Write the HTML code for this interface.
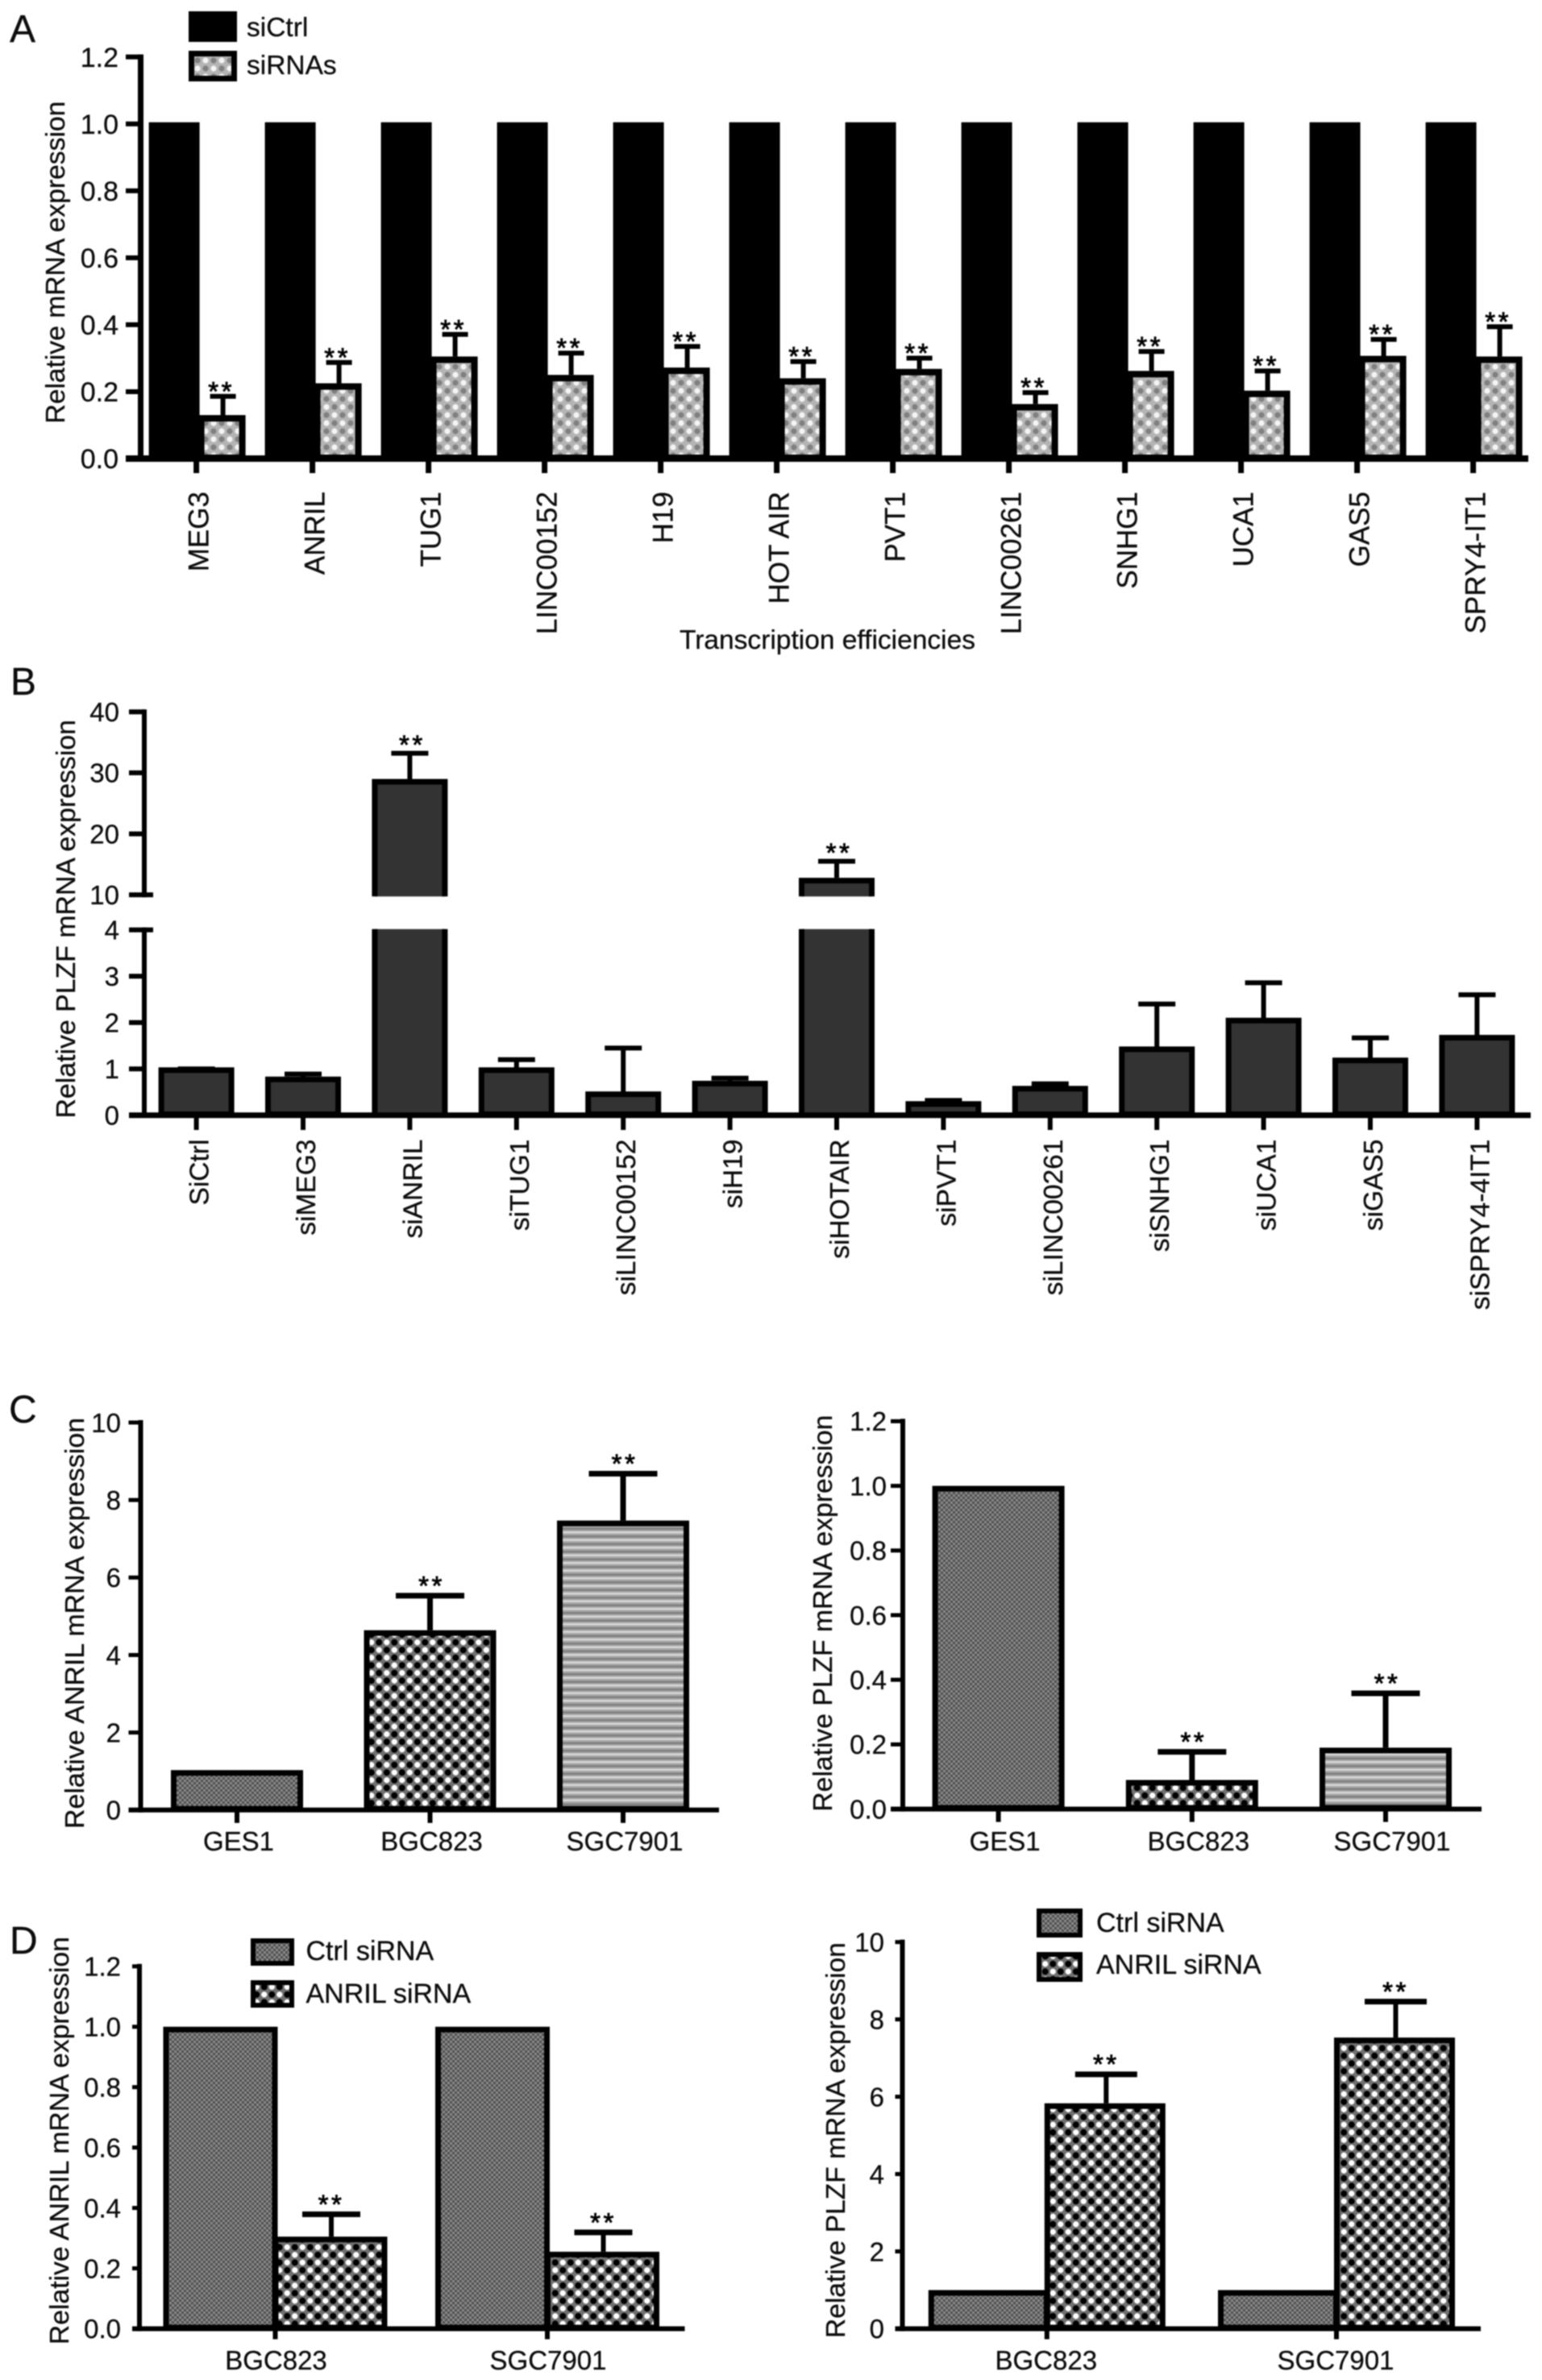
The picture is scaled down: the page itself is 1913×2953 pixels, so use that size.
<!DOCTYPE html>
<html lang="en">
<head>
<meta charset="utf-8">
<title>lncRNA expression figure</title>
<style>
html,body{margin:0;padding:0;background:#fff;}
svg{display:block;filter:blur(0.7px);}
text{font-family:"Liberation Sans",sans-serif;fill:#0c0c0c;stroke:#0c0c0c;stroke-width:0.3px;}
</style>
</head>
<body>
<svg id="figure" xmlns="http://www.w3.org/2000/svg" width="1913" height="2953" viewBox="0 0 1913 2953">
  <defs>
    <pattern id="pat-sirna" patternUnits="userSpaceOnUse" width="20" height="20">
      <rect width="20" height="20" fill="#b4b4b4"/>
      <circle cx="5" cy="5" r="3.6" fill="#f4f4f4"/>
      <circle cx="15" cy="15" r="3.6" fill="#f4f4f4"/>
      <circle cx="15" cy="5" r="3.6" fill="#808080"/>
      <circle cx="5" cy="15" r="3.6" fill="#808080"/>
    </pattern>
    <pattern id="pat-fine" patternUnits="userSpaceOnUse" width="6" height="6">
      <rect width="6" height="6" fill="#4e4e4e"/>
      <rect width="3" height="3" fill="#8c8c8c"/>
      <rect x="3" y="3" width="3" height="3" fill="#8c8c8c"/>
    </pattern>
    <pattern id="pat-dots" patternUnits="userSpaceOnUse" width="19" height="19">
      <rect width="19" height="19" fill="#707070"/>
      <circle cx="4.75" cy="4.75" r="3.6" fill="#fff"/>
      <circle cx="14.25" cy="14.25" r="3.6" fill="#fff"/>
      <circle cx="14.25" cy="4.75" r="4" fill="#000"/>
      <circle cx="4.75" cy="14.25" r="4" fill="#000"/>
    </pattern>
    <pattern id="pat-stripes" patternUnits="userSpaceOnUse" width="9.5" height="9.5">
      <rect width="9.5" height="9.5" fill="#a6a6a6"/>
      <rect y="0" width="9.5" height="2.6" fill="#d6d6d6"/>
      <rect y="5" width="9.5" height="2.6" fill="#808080"/>
    </pattern>
  </defs>
  <rect width="1913" height="2953" fill="#fff"/>

  <text x="12" y="52" font-size="48">A</text>
  <text x="13" y="862" font-size="48">B</text>
  <text x="11" y="1765" font-size="48">C</text>
  <text x="12" y="2424" font-size="48">D</text>

  <g>
    <rect x="234" y="14" width="60" height="38" fill="#000"/>
    <text x="306" y="45" font-size="33.5">siCtrl</text>
    <rect x="237.5" y="66.5" width="53" height="31" fill="url(#pat-sirna)" stroke="#000" stroke-width="7"/>
    <text x="306" y="92" font-size="33.5">siRNAs</text>
  </g>
  <g>
    <rect x="314" y="2408" width="48" height="28" fill="url(#pat-fine)" stroke="#000" stroke-width="6"/>
    <text x="379.5" y="2432" font-size="34">Ctrl siRNA</text>
    <rect x="314" y="2460" width="48" height="28" fill="url(#pat-dots)" stroke="#000" stroke-width="6"/>
    <text x="379.5" y="2485" font-size="34">ANRIL siRNA</text>
  </g>
  <g>
    <rect x="1289" y="2371" width="51" height="30" fill="url(#pat-fine)" stroke="#000" stroke-width="6"/>
    <text x="1360" y="2397" font-size="34">Ctrl siRNA</text>
    <rect x="1289" y="2425" width="51" height="31" fill="url(#pat-dots)" stroke="#000" stroke-width="6"/>
    <text x="1360" y="2449" font-size="34">ANRIL siRNA</text>
  </g>

  <text transform="translate(80,525.6) rotate(-90)" font-size="33.5" textLength="400" lengthAdjust="spacingAndGlyphs">Relative mRNA expression</text>
  <text x="843" y="805" font-size="33.4" textLength="367" lengthAdjust="spacingAndGlyphs">Transcription efficiencies</text>
  <text transform="translate(93,1387.5) rotate(-90)" font-size="33.7" textLength="494.5" lengthAdjust="spacingAndGlyphs">Relative PLZF mRNA expression</text>
  <text transform="translate(104,2269) rotate(-90)" font-size="33.6" textLength="510" lengthAdjust="spacingAndGlyphs">Relative ANRIL mRNA expression</text>
  <text transform="translate(1032,2247.7) rotate(-90)" font-size="33.5" textLength="492" lengthAdjust="spacingAndGlyphs">Relative PLZF mRNA expression</text>
  <text transform="translate(85,2909) rotate(-90)" font-size="33.5" textLength="506" lengthAdjust="spacingAndGlyphs">Relative ANRIL mRNA expression</text>
  <text transform="translate(1048,2901) rotate(-90)" font-size="33.5" textLength="491" lengthAdjust="spacingAndGlyphs">Relative PLZF mRNA expression</text>
</svg>

<script>
/* ---------- Panel A ---------- */
var categoriesA = ['MEG3','ANRIL','TUG1','LINC00152','H19','HOT AIR','PVT1','LINC00261','SNHG1','UCA1','GAS5','SPRY4-IT1'];
var ctrlA = [1,1,1,1,1,1,1,1,1,1,1,1];
var sirnaA = [0.13,0.225,0.305,0.25,0.272,0.24,0.268,0.163,0.262,0.203,0.307,0.305];
var errTopA = [0.186,0.287,0.371,0.315,0.335,0.29,0.30,0.197,0.32,0.262,0.356,0.394];
var ticksA = [0,0.2,0.4,0.6,0.8,1.0,1.2];
var tickLabelsA = ['0.0','0.2','0.4','0.6','0.8','1.0','1.2'];

/* ---------- Panel B (broken axis) ---------- */
var categoriesB = ['SiCtrl','siMEG3','siANRIL','siTUG1','siLINC00152','siH19','siHOTAIR','siPVT1','siLINC00261','siSNHG1','siUCA1','siGAS5','siSPRY4-4IT1'];
var valuesB = [1,0.8,29,1.0,0.48,0.71,12.8,0.27,0.6,1.45,2.07,1.21,1.7];
var errTopB = [1,0.89,33.2,1.2,1.45,0.8,15.5,0.32,0.68,2.4,2.86,1.67,2.6];
var significantB = ['siANRIL','siHOTAIR'];
var ticksLowerB = [0,1,2,3,4];
var ticksUpperB = [10,20,30,40];

/* ---------- Panel C ---------- */
var categoriesC = ['GES1','BGC823','SGC7901'];
var anrilC = [1.03,4.64,7.47];
var anrilErrTopC = [1.03,5.53,8.68];
var plzfC = [1.0,0.09,0.19];
var plzfErrTopC = [1.0,0.177,0.358];
var ticksCLeft = [0,2,4,6,8,10];
var tickLabelsCLeft = ['0','2','4','6','8','10'];
var ticksCRight = [0,0.2,0.4,0.6,0.8,1.0,1.2];
var tickLabelsCRight = ['0.0','0.2','0.4','0.6','0.8','1.0','1.2'];

/* ---------- Panel D ---------- */
var categoriesD = ['BGC823','SGC7901'];
var ctrlAnrilD = [1,1];
var knockdownAnrilD = [0.305,0.255];
var knockdownAnrilErrTopD = [0.379,0.319];
var ctrlPlzfD = [1,1];
var knockdownPlzfD = [5.83,7.53];
var knockdownPlzfErrTopD = [6.58,8.46];
var ticksDLeft = [0,0.2,0.4,0.6,0.8,1.0,1.2];
var tickLabelsDLeft = ['0.0','0.2','0.4','0.6','0.8','1.0','1.2'];
var ticksDRight = [0,2,4,6,8,10];
var tickLabelsDRight = ['0','2','4','6','8','10'];

var NS = 'http://www.w3.org/2000/svg';
var root = document.getElementById('figure');

function node(tag, attrs, parent) {
  var e = document.createElementNS(NS, tag);
  for (var k in attrs) e.setAttribute(k, attrs[k]);
  (parent || root).appendChild(e);
  return e;
}
function slug(s) { return String(s).toLowerCase().replace(/[^a-z0-9]+/g, '-'); }

function line(name, x1, y1, x2, y2, w) {
  var e = node('line', {x1:x1, y1:y1, x2:x2, y2:y2, stroke:'#000', 'stroke-width':w});
  
  
  return e;
}
function bar(name, x0, x1, yTop, yBase, fill, sw) {
  var e = node('rect', {x:x0 + sw/2, y:yTop + sw/2, width:x1 - x0 - sw, height:Math.max(0, yBase - yTop - sw), fill:fill, stroke:'#000', 'stroke-width':sw});
  
  
  return e;
}
/* Bar segment of the broken axis: left, top (optional) and right edges, open at the break. */
function openBar(name, x0, x1, yTop, yBase, fill, sw, withTop) {
  var l = x0 + sw/2, r = x1 - sw/2, t = yTop + (withTop ? sw/2 : 0);
  var d = withTop
    ? 'M' + l + ' ' + yBase + 'V' + t + 'H' + r + 'V' + yBase
    : 'M' + l + ' ' + t + 'V' + yBase + 'M' + r + ' ' + t + 'V' + yBase;
  var e = node('g', {});
  
  
  node('rect', {x:l, y:t, width:r - l, height:yBase - t, fill:fill}, e);
  node('path', {d:d, fill:'none', stroke:'#000', 'stroke-width':sw}, e);
  return e;
}
function errorBar(name, x, yFrom, yTo, capW, stem, capH) {
  line(name + '-stem', x, yFrom, x, yTo, stem);
  line(name + '-cap', x - capW/2, yTo, x + capW/2, yTo, capH);
}
function stars(name, x, yCap, dy) {
  var e = node('text', {x:x, y:yCap + dy, 'font-size':33, 'text-anchor':'middle', 'letter-spacing':'3.5', style:'stroke-width:0.8px;fill:#000;stroke:#000'});
  e.textContent = '**';
  
  
}
function yLabel(name, text, x, y, size) {
  var e = node('text', {x:x, y:y + size*0.358, 'font-size':size, 'text-anchor':'end'});
  e.textContent = text;
  
  
}
function xLabelRot(name, text, x, y, size) {
  var e = node('text', {transform:'translate(' + x + ',' + y + ') rotate(-90)', 'font-size':size, 'text-anchor':'end'});
  e.textContent = text;
  
  
}
function xLabel(name, text, x, y, size) {
  var e = node('text', {x:x, y:y, 'font-size':size, 'text-anchor':'middle'});
  e.textContent = text;
  
  
}

/* ---------- draw panel A ---------- */
(function () {
  var y = function (v) { return 569 - 415.3 * v; };
  var x = function (i) { return 243.6 + 144 * i; };
  categoriesA.forEach(function (c, i) {
    var n = slug(c);
    line('x-tick-a-' + n, x(i), 569, x(i), 587, 7);
    bar('bar-a-ctrl-' + n, x(i) - 59, x(i) + 4, y(ctrlA[i]) - 2, 569, '#000', 4);
    errorBar('error-a-' + n, x(i) + 33, y(sirnaA[i]), y(errTopA[i]), 32, 6, 6);
    bar('bar-a-sirna-' + n, x(i) + 2, x(i) + 61, y(sirnaA[i]), 572, 'url(#pat-sirna)', 8);
    stars('significance-a-' + n, x(i) + 31, y(errTopA[i]), 5);
    xLabelRot('x-label-a-' + n, c, x(i) + 15, 610, 35);
  });
  ticksA.forEach(function (t, i) {
    line('y-tick-a-' + i, 156, y(t), 178, y(t), 6);
    yLabel('y-label-a-' + i, tickLabelsA[i], 147, y(t), 34);
  });
  line('y-axis-a', 174.5, y(1.2) - 3, 174.5, 572, 7);
  line('x-axis-a', 156, 569, 1896, 569, 8);
})();

/* ---------- draw panel B ---------- */
(function () {
  var yLow = function (v) { return 1383.8 - 57.5 * v; };
  var yUp = function (v) { return 1110.3 - (v - 10) * 7.57; };
  var y = function (v) { return v > 4 ? yUp(v) : yLow(v); };
  var x = function (i) { return 243.6 + 132.4 * i; };
  categoriesB.forEach(function (c, i) {
    var n = slug(c);
    var l = x(i) - 47, r = x(i) + 47;
    line('x-tick-b-' + n, x(i), 1383, x(i), 1402, 6);
    errorBar('error-b-' + n, x(i), y(valuesB[i]), y(errTopB[i]), 46, 6, 6);
    if (valuesB[i] > 4) {
      openBar('bar-b-upper-' + n, l, r, yUp(valuesB[i]), yUp(10) + 2, '#333', 7, true);
      openBar('bar-b-lower-' + n, l, r, yLow(4) - 1, 1386, '#333', 7, false);
    } else {
      bar('bar-b-' + n, l, r, yLow(valuesB[i]) - 2, 1386, '#333', 7);
    }
    if (significantB.indexOf(c) >= 0) stars('significance-b-' + n, x(i) + 3, y(errTopB[i]), 1);
    xLabelRot('x-label-b-' + n, c, x(i) + 15, 1413.6, 33.5);
  });
  ticksLowerB.forEach(function (t) {
    line('y-tick-b-' + t, 160, yLow(t), t === 4 ? 190 : 180, yLow(t), 6);
    yLabel('y-label-b-' + t, String(t), 148, yLow(t), 33);
  });
  ticksUpperB.forEach(function (t) {
    line('y-tick-b-' + t, 160, yUp(t), t === 10 ? 190 : 180, yUp(t), 6);
    yLabel('y-label-b-' + t, String(t), 148, yUp(t), 33);
  });
  line('y-axis-b-lower', 179, yLow(4) - 3, 179, 1386, 6);
  line('y-axis-b-upper', 179, yUp(40) - 3, 179, yUp(10) + 3, 6);
  line('x-axis-b', 160, 1383.8, 1899, 1383.8, 7);
})();

/* ---------- generic panel C chart ---------- */
function drawC(key, values, errs, ticks, labels, o) {
  var y = function (v) { return o.y0 - o.k * v; };
  var x = function (i) { return o.first + o.step * i; };
  var fills = ['url(#pat-fine)', 'url(#pat-dots)', 'url(#pat-stripes)'];
  categoriesC.forEach(function (c, i) {
    var n = key + '-' + slug(c);
    line('x-tick-' + n, x(i), o.y0, x(i), o.y0 + 16, 6);
    if (errs[i] > values[i]) {
      errorBar('error-' + n, x(i), y(values[i]), y(errs[i]), 85, 7, 7);
      stars('significance-' + n, x(i) + 2, y(errs[i]), -1);
    }
    bar('bar-' + n, x(i) - 82, x(i) + 82, y(values[i]), o.y0 + 2, fills[i], 7);
    xLabel('x-label-' + n, c, x(i) + o.labelShift, 2296, 33);
  });
  ticks.forEach(function (t, i) {
    line('y-tick-' + key + '-' + i, o.axisX - 15, y(t), o.axisX, y(t), 5);
    yLabel('y-label-' + key + '-' + i, labels[i], o.labelX, y(t), 33);
  });
  line('y-axis-' + key, o.axisX, y(ticks[ticks.length - 1]) - 3, o.axisX, o.y0 + 3, 6);
  line('x-axis-' + key, o.axisX - 15, o.y0, o.right, o.y0, 6);
}
drawC('c-left', anrilC, anrilErrTopC, ticksCLeft, tickLabelsCLeft,
      {y0:2245.8, k:48.08, first:294, step:239.5, axisX:174.5, right:892, labelX:150, labelShift:2});
drawC('c-right', plzfC, plzfErrTopC, ticksCRight, tickLabelsCRight,
      {y0:2244.6, k:401, first:1238.6, step:240.2, axisX:1120, right:1838, labelX:1100, labelShift:8});

/* ---------- generic panel D chart ---------- */
function drawD(key, ctrl, kd, errs, ticks, labels, o) {
  var y = function (v) { return o.y0 - o.k * v; };
  var x = function (i) { return o.first + o.step * i; };
  categoriesD.forEach(function (c, i) {
    var n = key + '-' + slug(c);
    var mid = x(i) + o.barW / 2;
    errorBar('error-' + n, mid, y(kd[i]), y(errs[i]), o.capW, 6, 7);
    bar('bar-ctrl-' + n, x(i) - o.barW, x(i) + 3, y(ctrl[i]), o.y0 + 2, 'url(#pat-fine)', 7);
    bar('bar-sirna-' + n, x(i) - 3, x(i) + o.barW, y(kd[i]), o.y0 + 2, 'url(#pat-dots)', 7);
    line('x-tick-' + n, x(i), o.y0, x(i), o.y0 + 13, 6);
    stars('significance-' + n, mid, y(errs[i]), -1);
    xLabel('x-label-' + n, c, x(i) + o.labelShift, 2940, 33);
  });
  ticks.forEach(function (t, i) {
    line('y-tick-' + key + '-' + i, o.axisX - 9, y(t), o.axisX, y(t), 5);
    yLabel('y-label-' + key + '-' + i, labels[i], o.labelX, y(t), 33);
  });
  line('y-axis-' + key, o.axisX, y(ticks[ticks.length - 1]) - 3, o.axisX, o.y0 + 3, 6);
  line('x-axis-' + key, o.axisX - 9, o.y0, o.right, o.y0, 6);
}
drawD('d-left', ctrlAnrilD, knockdownAnrilD, knockdownAnrilErrTopD, ticksDLeft, tickLabelsDLeft,
      {y0:2889.4, k:374.7, first:341.5, step:337.5, axisX:173, right:849.5, labelX:150, labelShift:1, barW:139, capW:72});
drawD('d-right', ctrlPlzfD, knockdownPlzfD, knockdownPlzfErrTopD, ticksDRight, tickLabelsDRight,
      {y0:2889.4, k:47.98, first:1298.8, step:359.2, axisX:1119.5, right:1837, labelX:1097, labelShift:-1, barW:147, capW:77});
</script>
</body>
</html>
